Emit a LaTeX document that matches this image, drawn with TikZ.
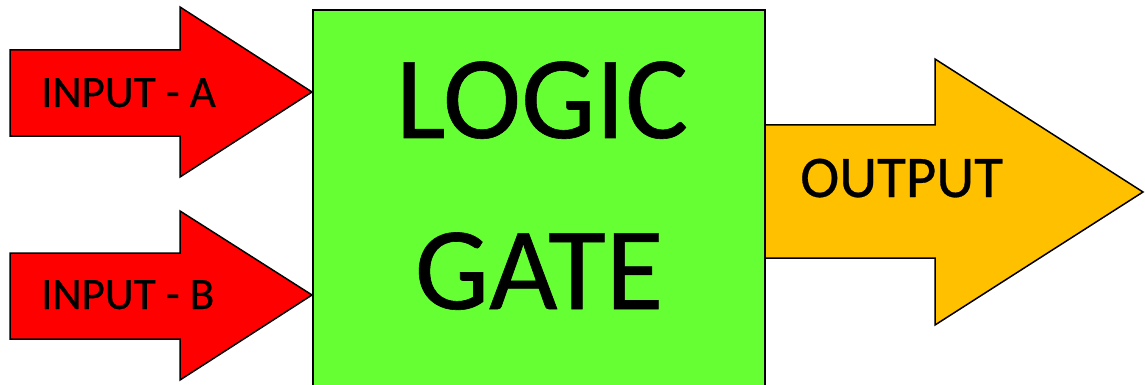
\documentclass[tikz,border=0pt]{standalone}
\usepackage{fontspec}
\setmainfont{Carlito}
\newfontfamily\gatefont{Carlito}[FakeBold=0.5]
\usetikzlibrary{positioning}

\definecolor{inred}{HTML}{FF0000}
\definecolor{gategreen}{HTML}{66FF33}
\definecolor{outorange}{HTML}{FFC000}

\begin{document}
\begin{tikzpicture}[
  x=1pt, y=-1pt,
  blockarrow/.style={draw=black, line width=1.5pt, line join=miter},
  lbl/.style={inner sep=0pt, anchor=base west, text=black},
]
\useasboundingbox (0,0) rectangle (1145,385);

% input arrows
\draw[blockarrow, fill=inred] (10,50) -- (180,50) -- (180,7) -- (312,92)
  -- (180,177) -- (180,136) -- (10,136) -- cycle;
\draw[blockarrow, fill=inred] (10,253) -- (180,253) -- (180,211) -- (312,295)
  -- (180,380) -- (180,339) -- (10,339) -- cycle;

% output arrow
\draw[blockarrow, fill=outorange] (765,125) -- (935,125) -- (935,59) -- (1143,192)
  -- (935,325) -- (935,258) -- (765,258) -- cycle;

% gate
\draw[blockarrow, fill=gategreen] (313,392) -- (313,10) -- (765,10) -- (765,392);

\node[lbl, font=\gatefont\fontsize{45}{48}\selectfont] (ina) at (41,107) {INPUT - A};
\node[lbl, font=\gatefont\fontsize{45}{48}\selectfont] (inb) at (41,309) {INPUT - B};
\node[lbl, font=\gatefont\fontsize{59}{62}\selectfont] (out) at (800,197) {OUTPUT};
\node[inner sep=0pt, anchor=base, font=\gatefont\fontsize{118}{120}\selectfont] (logic) at (542,138) {LOGIC};
\node[inner sep=0pt, anchor=base, font=\gatefont\fontsize{118}{120}\selectfont] (gate) at (539,309) {GATE};
\end{tikzpicture}
\end{document}
